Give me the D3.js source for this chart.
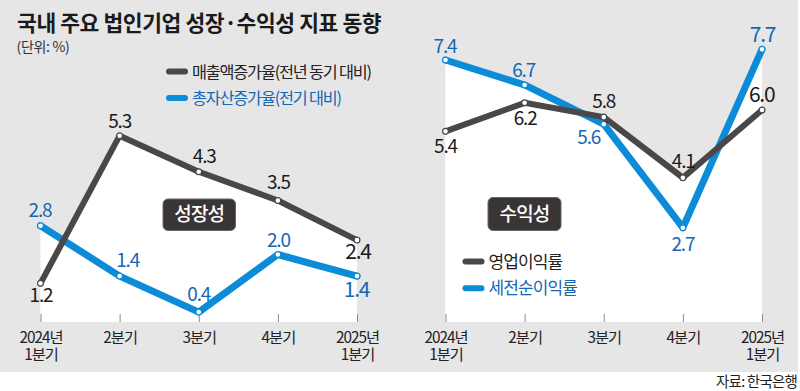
<!DOCTYPE html>
<html><head><meta charset="utf-8">
<script src="https://cdn.jsdelivr.net/npm/d3@7"></script>
<style>
html,body{margin:0;padding:0;background:#fff;}
svg{display:block;font-family:"Noto Sans CJK KR","Noto Sans",sans-serif;}
</style></head>
<body>
<svg id="chart" width="800" height="391"></svg>
<script>
// ---- data ----
const categories = ["2024년\n1분기", "2분기", "3분기", "4분기", "2025년\n1분기"];
const salesGrowth = [1.2, 5.3, 4.3, 3.5, 2.4];      // 매출액증가율(전년 동기 대비)
const assetGrowth = [2.8, 1.4, 0.4, 2.0, 1.4];      // 총자산증가율(전기 대비)
const operatingMargin = [5.4, 6.2, 5.8, 4.1, 6.0];  // 영업이익률
const pretaxMargin = [7.4, 6.7, 5.6, 2.7, 7.7];     // 세전순이익률
const title = "국내 주요 법인기업 성장·수익성 지표 동향";
const unitText = "(단위: %)";
const sourceText = "자료: 한국은행";

// ---- label placement (annotation layout, not data) ----
const lblSales  = {dx:[0.5,0,5.5,0.5,1],   dy:[19,-7.5,-9,-12,18.5]};
const lblAsset  = {dx:[-0.5,8,0,0.5,-0.5], dy:[-9,-9,-11,-7.5,21]};
const lblOper   = {dx:[0,0.5,0,0.3,-0.3],  dy:[21.5,22.3,-9.4,-10,-8.3]};
const lblPretax = {dx:[-0.5,-1,-15,0,0.5], dy:[-6.7,-8,20,23,-7.6]};

const GRAY = "#4a4747", BLUE = "#0b8bd8", BLUE_TXT = "#1467b5", BG = "#e6e6e7";

const svg = d3.select("#chart");
svg.append("rect").attr("x",0).attr("y",0).attr("width",798).attr("height",372).attr("fill",BG);

svg.append("text").attr("x",17).attr("y",31).attr("font-size",21.5).attr("font-weight",700)
  .attr("letter-spacing",-0.4).attr("fill","#1a1a1a").text(title);
svg.append("text").attr("x",16.5).attr("y",51.5).attr("font-size",14).attr("letter-spacing",-0.3)
  .attr("fill","#333").text(unitText);
svg.append("text").attr("x",797).attr("y",387).attr("text-anchor","end").attr("font-size",14.5)
  .attr("letter-spacing",-0.8).attr("fill","#222").text(sourceText);

const baseY = 322;

function panel(opts){
  const x = d3.scalePoint().domain(categories).range(opts.xRange);
  const y = d3.scaleLinear().domain(opts.yDomain).range(opts.yRange);
  const g = svg.append("g");
  const area = d3.area().x((d,i)=>x(categories[i])).y0(baseY).y1(d=>y(d));
  // white plot area under both series (union = area under the upper envelope)
  opts.series.forEach(s=>{
    g.append("path").datum(s.values).attr("d",area).attr("fill","#fff");
  });
  // axis ticks
  const axis = d3.axisBottom(x).tickSizeInner(-8).tickSizeOuter(0).tickFormat("");
  const ag = g.append("g").attr("transform",`translate(0,${baseY})`).call(axis);
  ag.select(".domain").remove();
  ag.selectAll(".tick text").remove();
  ag.selectAll(".tick line").attr("stroke","#8a8a8a").attr("stroke-width",1);
  ag.selectAll(".tick").each(function(d){
    const t = d3.select(this);
    d.split("\n").forEach((line,i)=>{
      t.append("text").attr("x",0).attr("y",20.5 + i*17.8).attr("text-anchor","middle")
        .attr("fill","#222").attr("font-size",15.3).attr("letter-spacing",-1)
        .attr("font-family","'Noto Sans CJK KR',sans-serif").text(line);
    });
  });
  const line = d3.line().x((d,i)=>x(categories[i])).y(d=>y(d));
  // lines: draw in given order (last on top)
  opts.series.forEach(s=>{
    g.append("path").datum(s.values).attr("d",line).attr("fill","none")
      .attr("stroke",s.color).attr("stroke-width",s.width)
      .attr("stroke-linejoin","round").attr("stroke-linecap","round");
    g.selectAll(null).data(s.values).enter().append("circle")
      .attr("cx",(d,i)=>x(categories[i])).attr("cy",d=>y(d)).attr("r",2.9)
      .attr("fill","#fff").attr("stroke",s.color).attr("stroke-width",1.2);
  });
  opts.series.forEach(s=>{
    g.selectAll(null).data(s.values).enter().append("text")
      .attr("x",(d,i)=>x(categories[i]) + s.lbl.dx[i])
      .attr("y",(d,i)=>y(d) + s.lbl.dy[i])
      .attr("text-anchor","middle")
      .attr("font-size",(d,i)=> i===s.values.length-1 ? 21 : 19)
      .attr("letter-spacing",-1.2)
      .attr("fill",s.textColor)
      .text(d=>d3.format(".1f")(d));
  });
  // badge
  const b = opts.badge;
  g.append("rect").attr("x",b.x).attr("y",b.y).attr("width",b.w).attr("height",b.h)
    .attr("rx",5).attr("fill","#3a3535").attr("stroke","#6a6565").attr("stroke-width",1);
  g.append("text").attr("x",b.x+b.w/2).attr("y",b.y+b.h/2+6.5).attr("text-anchor","middle")
    .attr("font-size",19).attr("font-weight",500).attr("letter-spacing",-0.8).attr("fill","#fff").text(b.text);
  // legend
  const L = opts.legend;
  L.items.forEach((it,i)=>{
    const cy = L.y + i*L.gap;
    g.append("rect").attr("x",L.x).attr("y",cy-3).attr("width",22).attr("height",6).attr("rx",3)
      .attr("fill",it.color);
    g.append("text").attr("x",L.x+26).attr("y",cy+6).attr("font-size",L.fs)
      .attr("letter-spacing",L.ls).attr("fill",it.textColor).text(it.text);
  });
}

panel({
  xRange:[40.5,357], yDomain:[0,5.3], yRange:[326.5,135.7],
  series:[
    {values:assetGrowth, color:BLUE, width:7, textColor:BLUE_TXT, lbl:lblAsset},
    {values:salesGrowth, color:GRAY, width:6, textColor:"#1a1a1a", lbl:lblSales}
  ],
  badge:{x:163,y:199,w:72.5,h:31.5,text:"성장성"},
  legend:{x:166,y:71.5,gap:26.5,fs:16.3,ls:-1.2,items:[
    {color:GRAY,textColor:"#222",text:"매출액증가율(전년 동기 대비)"},
    {color:BLUE,textColor:BLUE_TXT,text:"총자산증가율(전기 대비)"}
  ]}
});

panel({
  xRange:[445.5,762], yDomain:[2.7,7.7], yRange:[227.7,49.3],
  series:[
    {values:pretaxMargin, color:BLUE, width:7, textColor:BLUE_TXT, lbl:lblPretax},
    {values:operatingMargin, color:GRAY, width:6, textColor:"#1a1a1a", lbl:lblOper}
  ],
  badge:{x:488,y:197.5,w:73,h:33,text:"수익성"},
  legend:{x:462.5,y:261.5,gap:26.8,fs:17,ls:-0.9,items:[
    {color:GRAY,textColor:"#222",text:"영업이익률"},
    {color:BLUE,textColor:BLUE_TXT,text:"세전순이익률"}
  ]}
});
</script>
</body></html>
